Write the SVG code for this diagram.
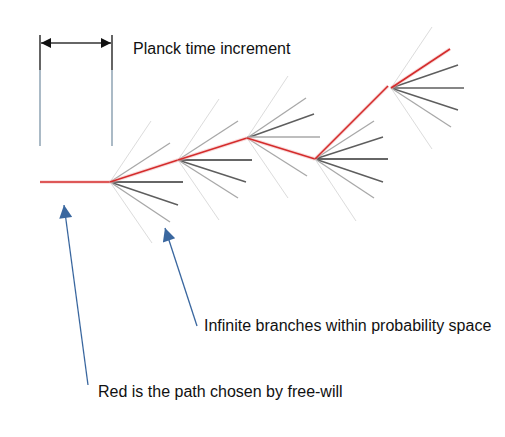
<svg xmlns="http://www.w3.org/2000/svg" width="505" height="437" viewBox="0 0 505 437">
<style>
.t{font-family:"Liberation Sans",Arial,sans-serif;font-size:16px;fill:#111}
.l{stroke:#dcdcdc;stroke-width:1}
.m{stroke:#a8a8a8;stroke-width:1.3}
.d{stroke:#5e5e5e;stroke-width:1.4}
.k{stroke:#333;stroke-width:1.4}
.r{stroke:#d42c2c;stroke-width:1.6}
.rg{stroke:#f4b8b8;stroke-width:3.5;opacity:0.5}
.ann{stroke:#3a679f;stroke-width:1.3;fill:none}
</style>
<defs>
<marker id="bh" viewBox="0 0 10 10" refX="10" refY="5" markerWidth="10" markerHeight="10" markerUnits="userSpaceOnUse" orient="auto">
<path d="M0,0 L10,5 L0,10 z" fill="#111"/>
</marker>
<marker id="ah" viewBox="0 0 10 10" refX="10" refY="5" markerWidth="16" markerHeight="13" markerUnits="userSpaceOnUse" orient="auto">
<path d="M0,0 L10,5 L0,10 z" fill="#3a679f"/>
</marker>
</defs>
<rect width="505" height="437" fill="#fff"/>

<g id="dimension">
<line x1="40" y1="70" x2="40" y2="146" stroke="#7d95a8" stroke-width="1.3"/>
<line x1="112" y1="70" x2="112" y2="146" stroke="#7d95a8" stroke-width="1.3"/>
<line x1="40" y1="35" x2="40" y2="70" stroke="#111" stroke-width="1.3"/>
<line x1="112" y1="35" x2="112" y2="70" stroke="#111" stroke-width="1.3"/>
<line x1="76" y1="43" x2="41" y2="43" stroke="#333" stroke-width="1.4" marker-end="url(#bh)"/>
<line x1="76" y1="43" x2="111" y2="43" stroke="#333" stroke-width="1.4" marker-end="url(#bh)"/>
</g>

<g id="start">
<line class="rg" x1="40" y1="182" x2="110" y2="182"/>
<line class="r" x1="40" y1="182" x2="110" y2="182"/>
</g>

<g id="node1">
<line class="l" x1="110" y1="182" x2="151" y2="121"/>
<line class="m" x1="110" y1="182" x2="170" y2="143"/>
<line class="k" x1="110" y1="182" x2="183" y2="182"/>
<line class="d" x1="110" y1="182" x2="178" y2="205"/>
<line class="m" x1="110" y1="182" x2="170" y2="222"/>
<line class="l" x1="110" y1="182" x2="152" y2="243"/>
<line class="rg" x1="110" y1="182" x2="178" y2="160"/>
<line class="r" x1="110" y1="182" x2="178" y2="160"/>
</g>

<g id="node2">
<line class="l" x1="178" y1="160" x2="219" y2="99"/>
<line class="m" x1="178" y1="160" x2="238" y2="121"/>
<line class="k" x1="178" y1="160" x2="252" y2="160"/>
<line class="d" x1="178" y1="160" x2="246" y2="182"/>
<line class="m" x1="178" y1="160" x2="238" y2="198"/>
<line class="l" x1="178" y1="160" x2="219" y2="220"/>
<line class="rg" x1="178" y1="160" x2="247" y2="138"/>
<line class="r" x1="178" y1="160" x2="247" y2="138"/>
</g>

<g id="node3">
<line class="l" x1="247" y1="138" x2="288" y2="76"/>
<line class="m" x1="247" y1="138" x2="306" y2="98"/>
<line class="d" x1="247" y1="138" x2="314" y2="114"/>
<line class="m" x1="247" y1="137" x2="320" y2="137"/>
<line class="m" x1="247" y1="138" x2="307" y2="176"/>
<line class="l" x1="247" y1="138" x2="288" y2="198"/>
<line class="rg" x1="247" y1="138" x2="315" y2="159"/>
<line class="r" x1="247" y1="138" x2="315" y2="159"/>
</g>

<g id="node4">
<line class="m" x1="315" y1="159" x2="374" y2="121"/>
<line class="d" x1="315" y1="159" x2="383" y2="137"/>
<line class="k" x1="315" y1="159" x2="388" y2="159"/>
<line class="d" x1="315" y1="159" x2="383" y2="182"/>
<line class="m" x1="315" y1="159" x2="374" y2="198"/>
<line class="l" x1="315" y1="159" x2="356" y2="221"/>
<line class="rg" x1="315" y1="159" x2="388" y2="86"/>
<line class="r" x1="315" y1="159" x2="388" y2="86"/>
</g>

<g id="node5">
<line class="l" x1="391" y1="88" x2="432" y2="27"/>
<line class="d" x1="391" y1="88" x2="458" y2="65"/>
<line class="d" x1="391" y1="88" x2="464" y2="88"/>
<line class="d" x1="391" y1="88" x2="458" y2="110"/>
<line class="m" x1="391" y1="88" x2="451" y2="127"/>
<line class="l" x1="391" y1="88" x2="432" y2="149"/>
<line class="rg" x1="391" y1="88" x2="450" y2="49"/>
<line class="r" x1="391" y1="88" x2="450" y2="49"/>
</g>

<g id="connectors">
<line class="ann" x1="88" y1="385" x2="64" y2="205" marker-end="url(#ah)"/>
<line class="ann" x1="197" y1="326" x2="165" y2="228" marker-end="url(#ah)"/>
</g>

<g id="labels">
<text class="t" x="133" y="54">Planck time increment</text>
<text class="t" x="204" y="331">Infinite branches within probability space</text>
<text class="t" x="98" y="397">Red is the path chosen by free-will</text>
</g>
</svg>
